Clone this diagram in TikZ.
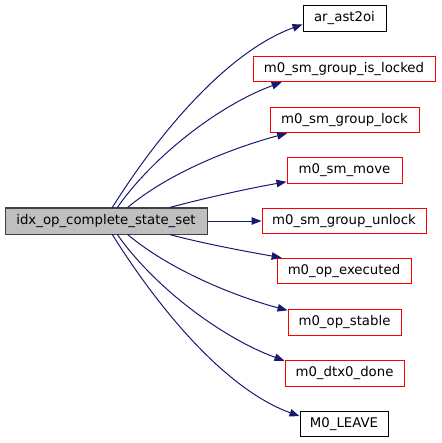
\documentclass[tikz,border=0pt]{standalone}
\usepackage{fontspec}
\setmainfont{DejaVu Sans}
\usepackage{xcolor}
\usetikzlibrary{arrows.meta}
\definecolor{edgeblue}{HTML}{191970}
\definecolor{boxgray}{HTML}{BFBFBF}

\begin{document}
\begin{tikzpicture}[x=1pt, y=1pt,
fnnode/.style={draw=black!75, fill=boxgray, line width=1pt, minimum height=26pt, inner sep=0pt, font=\fontsize{13.3}{16}\selectfont},
callnode/.style={draw=black, fill=white, line width=1pt, minimum height=25.5pt, inner sep=0pt, font=\fontsize{13.3}{16}\selectfont},
rednode/.style={callnode, draw=red},
callarrow/.style={draw=edgeblue, line width=1pt, looseness=0.8, -{Triangle[length=10pt, width=7.5pt]}}
]
\useasboundingbox (0,0) rectangle (441,-443);
%Nodes
\node[fnnode, minimum width=202pt] (F) at (106,-221) {idx\_op\_complete\_state\_set};
\node[callnode, minimum width=83pt] (C1) at (344.5,-18.5) {ar\_ast2oi};
\node[rednode, minimum width=182pt] (C2) at (344,-69) {m0\_sm\_group\_is\_locked};
\node[rednode, minimum width=149pt] (C3) at (344.5,-120) {m0\_sm\_group\_lock};
\node[rednode, minimum width=115pt] (C4) at (344.5,-170.5) {m0\_sm\_move};
\node[rednode, minimum width=164pt] (C5) at (344,-221) {m0\_sm\_group\_unlock};
\node[rednode, minimum width=134pt] (C6) at (344,-271) {m0\_op\_executed};
\node[rednode, minimum width=113pt] (C7) at (344.5,-322.5) {m0\_op\_stable};
\node[rednode, minimum width=119pt] (C8) at (344.5,-373.5) {m0\_dtx0\_done};
\node[callnode, minimum width=88pt] (C9) at (344,-424) {M0\_LEAVE};
%Lines
\draw[callarrow] (F.65) to[out=58, in=200] (C1.188);
\draw[callarrow] (F.50) to[out=55, in=200] (C2.192);
\draw[callarrow] (F.32) to[out=40, in=195] (C3.193);
\draw[callarrow] (F.12) to[out=15, in=190] (C4.191);
\draw[callarrow] (F.east) -- (C5.west);
\draw[callarrow] (F.-12) to[out=-15, in=170] (C6.168);
\draw[callarrow] (F.-32) to[out=-40, in=165] (C7.168);
\draw[callarrow] (F.-50) to[out=-55, in=160] (C8.168);
\draw[callarrow] (F.-65) to[out=-58, in=160] (C9.170);
\end{tikzpicture}
\end{document}
